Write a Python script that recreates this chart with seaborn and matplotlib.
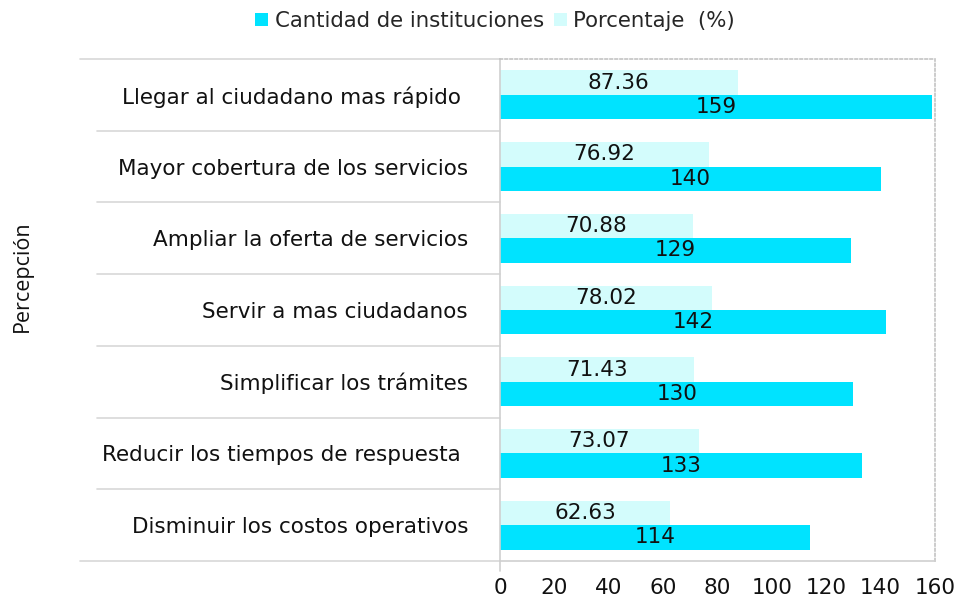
import matplotlib
matplotlib.use("Agg")
import matplotlib.pyplot as plt
from matplotlib.lines import Line2D
from matplotlib.patches import Patch
import matplotlib.transforms as mtransforms
import seaborn as sns
import pandas as pd

categories = [
    "Llegar al ciudadano mas rápido ",
    "Mayor cobertura de los servicios",
    "Ampliar la oferta de servicios",
    "Servir a mas ciudadanos",
    "Simplificar los trámites",
    "Reducir los tiempos de respuesta ",
    "Disminuir los costos operativos",
]
cantidad = [159, 140, 129, 142, 130, 133, 114]
porcentaje = [87.36, 76.92, 70.88, 78.02, 71.43, 73.07, 62.63]

s_cant = "Cantidad de instituciones"
s_pct = "Porcentaje  (%)"
c_cant = "#00E3FF"
c_pct = "#D3FCFC"

df = pd.DataFrame({
    "Percepción": categories * 2,
    "serie": [s_pct] * len(categories) + [s_cant] * len(categories),
    "valor": porcentaje + cantidad,
})

sns.set_style("white")
plt.rcParams["font.family"] = ["DejaVu Sans"]

fig = plt.figure(figsize=(9.6, 6.01), dpi=100)
ax = fig.add_axes([500 / 960, 1 - 561 / 601, 435 / 960, 502 / 601])

sns.barplot(data=df, y="Percepción", x="valor", hue="serie",
            hue_order=[s_pct, s_cant], palette=[c_pct, c_cant],
            order=categories, orient="h", width=0.68, saturation=1,
            legend=False, ax=ax, edgecolor="none")

for cont, fmt in zip(ax.containers, ["%.2f", "%d"]):
    ax.bar_label(cont, fmt=fmt, label_type="center", fontsize=15.5, color="#111111")

ax.set_xlim(0, 160)
ax.set_ylim(len(categories) - 0.5, -0.5)
ax.set_xticks(range(0, 161, 20))
ax.tick_params(axis="x", length=8, color="#d0d0d0", labelsize=15.5, pad=4, labelcolor="#111111")
ax.tick_params(axis="y", length=0, pad=23, labelsize=15.5, labelcolor="#111111")
ax.set_xlabel("")
ax.set_ylabel("")

for side in ["left", "bottom"]:
    ax.spines[side].set_color("#d0d0d0")
    ax.spines[side].set_linewidth(1.2)
for side in ["top", "right"]:
    ax.spines[side].set_color("#c4c4c4")
    ax.spines[side].set_linestyle((0, (1.5, 1.5)))
    ax.spines[side].set_linewidth(1.2)

# separator lines between categories, reaching into the label area
trans = mtransforms.blended_transform_factory(ax.transAxes, ax.transData)
n = len(categories)
for i in range(n + 1):
    y = i - 0.5
    x0 = -420 / 435 if i in (0, n) else -403 / 435
    ax.add_line(Line2D([x0, 0], [y, y], transform=trans, color="#d8d8d8",
                       linewidth=1.2, clip_on=False))
# left axis runs down through the tick area
ax.add_line(Line2D([0, 0], [0, -10 / 502], transform=ax.transAxes,
                   color="#d0d0d0", linewidth=1.2, clip_on=False))

handles = [Patch(facecolor=c_cant, edgecolor="none"), Patch(facecolor=c_pct, edgecolor="none")]
fig.legend(handles, [s_cant, s_pct], loc="center", bbox_to_anchor=(0.516, 1 - 21 / 601),
           ncol=2, frameon=False, fontsize=15.3, handlelength=0.6, handleheight=0.6,
           handletextpad=0.3, columnspacing=0.5)

fig.text(22 / 960, 1 - 276 / 601, "Percepción", rotation=90, ha="center", va="center",
         fontsize=15.5, family=["Open Sans", "DejaVu Sans"], color="#111111")

fig.savefig("out.png", dpi=100)
